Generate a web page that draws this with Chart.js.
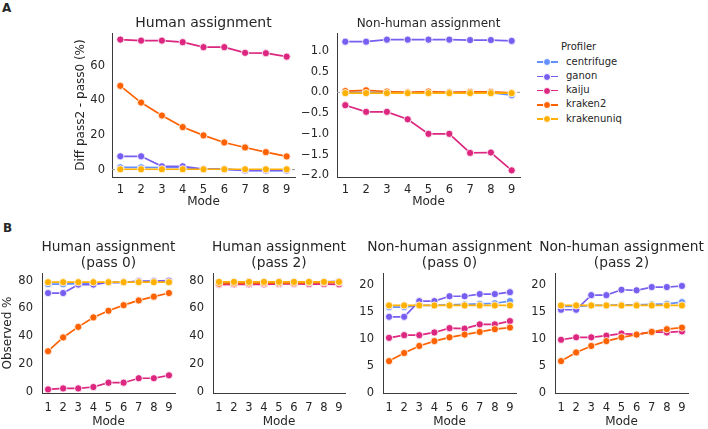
<!DOCTYPE html>
<html>
<head>
<meta charset="utf-8">
<script src="https://cdn.jsdelivr.net/npm/chart.js@4.4.0/dist/chart.umd.min.js"></script>
<style>
  body { margin: 0; width: 708px; height: 429px; background: #fff; position: relative; overflow: hidden;
         font-family: "DejaVu Sans", sans-serif; color: #262626; }
  canvas { position: absolute; }
  .panel-letter { position: absolute; font-weight: bold; font-size: 12px; line-height: 12px; }
  .leg { position: absolute; font-size: 10px; line-height: 12px; white-space: nowrap; }
  .leg-line { position: absolute; height: 1.6px; width: 21px; }
  .leg-dot { position: absolute; width: 6px; height: 6px; border-radius: 50%; border: 0.8px solid #fff; }
</style>
</head>
<body>
<div class="panel-letter" style="left:2px;top:2px">A</div>
<div class="panel-letter" style="left:3px;top:222px">B</div>
<canvas id="a-human" width="235" height="212" style="left:70px;top:0px"></canvas>
<canvas id="a-nonhuman" width="233" height="212" style="left:297px;top:0px"></canvas>
<canvas id="b-human-0" width="185" height="199" style="left:0px;top:230px"></canvas>
<canvas id="b-human-2" width="172" height="199" style="left:183px;top:230px"></canvas>
<canvas id="b-nonhuman-0" width="193" height="199" style="left:353px;top:230px"></canvas>
<canvas id="b-nonhuman-2" width="183" height="199" style="left:525px;top:230px"></canvas>
<div id="legend"></div>
<script>
// x values shared by every panel
var modes = [1, 2, 3, 4, 5, 6, 7, 8, 9];
var profilers = ["centrifuge", "ganon", "kaiju", "kraken2", "krakenuniq"];
var profilerColors = ["#648FFF", "#785EF0", "#DC267F", "#FE6100", "#FFB000"];

// A: diff pass2 - pass0 (%), human assignment
var diffHumanCentrifuge = [1.3, 1.3, 1.2, 1.2, 0.2, 0.2, -0.6, -0.6, -0.6];
var diffHumanGanon      = [7.7, 7.7, 1.9, 1.9, 0.3, 0.3, -0.5, -0.5, -0.5];
var diffHumanKaiju      = [75.3, 74.7, 74.7, 73.8, 70.9, 70.9, 67.6, 67.4, 65.4];
var diffHumanKraken2    = [48.5, 38.8, 31.3, 24.6, 19.8, 15.7, 12.8, 10.1, 7.6];
var diffHumanKrakenuniq = [0.2, 0.2, 0.2, 0.2, 0.2, 0.2, 0.2, 0.2, 0.2];

// A: diff pass2 - pass0 (%), non-human assignment
var diffNonhumanCentrifuge = [0.0, 0.0, 0.0, 0.0, 0.0, 0.0, 0.0, -0.01, -0.07];
var diffNonhumanGanon      = [1.22, 1.22, 1.27, 1.27, 1.27, 1.27, 1.26, 1.26, 1.24];
var diffNonhumanKaiju      = [-0.31, -0.47, -0.47, -0.65, -1.0, -1.0, -1.46, -1.45, -1.88];
var diffNonhumanKraken2    = [0.03, 0.05, 0.02, 0.0, 0.02, 0.0, 0.01, 0.01, -0.01];
var diffNonhumanKrakenuniq = [-0.02, -0.02, -0.02, -0.02, -0.02, -0.02, -0.02, -0.02, -0.02];

// B: observed %, human assignment, pass 0
var humanPass0Centrifuge = [77.5, 77.5, 77.8, 77.8, 78.6, 78.7, 79.3, 79.4, 79.6];
var humanPass0Ganon      = [71.1, 71.1, 77.2, 77.2, 78.7, 78.8, 79.6, 79.6, 80.0];
var humanPass0Kaiju      = [1.9, 2.6, 2.6, 3.6, 6.7, 6.7, 9.9, 9.9, 12.0];
var humanPass0Kraken2    = [29.3, 39.2, 46.8, 53.6, 58.4, 62.4, 65.8, 68.5, 71.1];
var humanPass0Krakenuniq = [78.9, 78.9, 78.9, 78.9, 78.9, 78.9, 78.9, 78.9, 78.9];

// B: observed %, human assignment, pass 2
var humanPass2Centrifuge = [78.8, 78.8, 79.0, 79.0, 78.8, 78.9, 78.7, 78.8, 79.0];
var humanPass2Ganon      = [78.8, 78.8, 79.1, 79.1, 79.0, 79.1, 79.1, 79.1, 79.5];
var humanPass2Kaiju      = [77.2, 77.3, 77.3, 77.4, 77.6, 77.6, 77.5, 77.5, 77.4];
var humanPass2Kraken2    = [77.8, 78.0, 78.1, 78.2, 78.2, 78.1, 78.6, 78.6, 78.7];
var humanPass2Krakenuniq = [79.1, 79.1, 79.1, 79.1, 79.1, 79.1, 79.1, 79.1, 79.1];

// B: observed %, non-human assignment, pass 0
var nonhumanPass0Centrifuge = [15.9, 15.9, 16.2, 16.2, 16.3, 16.4, 16.5, 16.6, 17.0];
var nonhumanPass0Ganon      = [14.1, 14.1, 17.0, 17.0, 17.9, 17.9, 18.3, 18.3, 18.65];
var nonhumanPass0Kaiju      = [10.2, 10.7, 10.7, 11.2, 12.0, 11.9, 12.7, 12.7, 13.3];
var nonhumanPass0Kraken2    = [5.9, 7.4, 8.7, 9.6, 10.3, 10.8, 11.3, 11.8, 12.1];
var nonhumanPass0Krakenuniq = [16.2, 16.2, 16.2, 16.2, 16.2, 16.2, 16.2, 16.2, 16.2];

// B: observed %, non-human assignment, pass 2
var nonhumanPass2Centrifuge = [16.0, 16.0, 16.2, 16.2, 16.3, 16.3, 16.4, 16.5, 16.8];
var nonhumanPass2Ganon      = [15.4, 15.4, 18.1, 18.1, 19.1, 19.0, 19.6, 19.6, 19.8];
var nonhumanPass2Kaiju      = [9.85, 10.3, 10.3, 10.6, 11.0, 10.85, 11.3, 11.2, 11.4];
var nonhumanPass2Kraken2    = [5.9, 7.5, 8.7, 9.6, 10.3, 10.8, 11.3, 11.8, 12.1];
var nonhumanPass2Krakenuniq = [16.2, 16.2, 16.2, 16.2, 16.2, 16.2, 16.2, 16.2, 16.2];

// tick labels
var diffHumanTicks = [0, 20, 40, 60];
var diffNonhumanTicks = [-2.0, -1.5, -1.0, -0.5, 0.0, 0.5, 1.0];
var humanTicks = [0, 20, 40, 60, 80];
var nonhumanTicks = [0, 5, 10, 15, 20];

Chart.defaults.font.family = "'DejaVu Sans', sans-serif";
Chart.defaults.color = "#262626";

function buildDatasets(seriesList) {
  return seriesList.map(function (values, i) {
    return {
      label: profilers[i],
      data: values.map(function (v, j) { return { x: modes[j], y: v }; }),
      borderColor: profilerColors[i],
      backgroundColor: profilerColors[i],
      pointBackgroundColor: profilerColors[i],
      pointBorderColor: "#fff",
      pointBorderWidth: 0.8,
      pointRadius: 3.6,
      borderWidth: 1.7,
      order: seriesList.length - i   // later profilers drawn on top, like seaborn
    };
  });
}

// titles centred over the plot area + the dashed zero line of panel A
function decorPlugin(p) {
  return {
    id: "decor",
    beforeDatasetsDraw: function (chart) {
      if (!p.zeroLine) return;
      var ctx = chart.ctx, area = chart.chartArea;
      var y = chart.scales.y.getPixelForValue(0);
      ctx.save();
      ctx.strokeStyle = "#9a9a9a";
      ctx.lineWidth = 1;
      ctx.setLineDash([3, 2]);
      ctx.beginPath();
      ctx.moveTo(area.left, y);
      ctx.lineTo(area.right, y);
      ctx.stroke();
      ctx.restore();
    },
    afterDraw: function (chart) {
      var ctx = chart.ctx, area = chart.chartArea;
      ctx.save();
      ctx.fillStyle = "#262626";
      ctx.font = p.titleSize + "px 'DejaVu Sans'";
      ctx.textAlign = "center";
      ctx.textBaseline = "middle";
      p.title.forEach(function (line, i) {
        ctx.fillText(line, (area.left + area.right) / 2, p.titleY + i * p.titleGap);
      });
      ctx.restore();
    }
  };
}

function makePanel(id, p) {
  var fmt = function (v) {
    var s = p.decimals ? v.toFixed(p.decimals) : String(Math.round(v));
    return s.replace("-", "\u2212");
  };
  return new Chart(document.getElementById(id), {
    type: "line",
    data: { datasets: buildDatasets(p.series) },
    plugins: [decorPlugin(p)],
    options: {
      responsive: false,
      animation: false,
      layout: { padding: { top: p.padTop, right: p.padRight || 10, left: 0, bottom: 0 } },
      plugins: { legend: { display: false }, tooltip: { enabled: false } },
      scales: {
        x: {
          type: "linear",
          min: 0.6, max: 9.4,
          grid: { display: false, drawTicks: false },
          border: { display: true, color: "#3a3a3a", width: 1 },
          ticks: { font: { size: 11.5 }, padding: p.xTickPad, color: "#262626" },
          afterBuildTicks: function (s) { s.ticks = modes.map(function (m) { return { value: m }; }); },
          afterFit: function (s) { s.height = p.xHeight; },
          title: { display: true, text: "Mode", font: { size: 12 }, padding: { top: 0, bottom: p.xTitlePad } }
        },
        y: {
          min: p.ymin, max: p.ymax,
          grid: { display: false, drawTicks: false },
          border: { display: true, color: "#3a3a3a", width: 1 },
          ticks: { font: { size: 11.5 }, padding: p.yTickPad, color: "#262626", callback: fmt },
          afterBuildTicks: function (s) { s.ticks = p.ticks.map(function (t) { return { value: t }; }); },
          afterFit: function (s) { s.width = p.yWidth; },
          title: { display: !!p.yTitle, text: p.yTitle || "", font: { size: 12 }, padding: { top: p.yTitlePad || 0, bottom: 0 } }
        }
      }
    }
  });
}

makePanel("a-human", {
  series: [diffHumanCentrifuge, diffHumanGanon, diffHumanKaiju, diffHumanKraken2, diffHumanKrakenuniq],
  title: ["Human assignment"], titleSize: 14, titleY: 23, titleGap: 0,
  padTop: 33, xHeight: 35, xTickPad: 6, xTitlePad: 3, yWidth: 42, yTickPad: 7,
  yTitle: "Diff pass2 - pass0 (%)", yTitlePad: 4,
  ymin: -4.3, ymax: 79.1, ticks: diffHumanTicks, decimals: 0, zeroLine: true
});

makePanel("a-nonhuman", {
  series: [diffNonhumanCentrifuge, diffNonhumanGanon, diffNonhumanKaiju, diffNonhumanKraken2, diffNonhumanKrakenuniq],
  title: ["Non-human assignment"], titleSize: 12, titleY: 23.5, titleGap: 0,
  padTop: 33, xHeight: 35, xTickPad: 6, xTitlePad: 3, yWidth: 40, yTickPad: 8,
  ymin: -2.04, ymax: 1.43, ticks: diffNonhumanTicks, decimals: 1, zeroLine: true
});

makePanel("b-human-0", {
  series: [humanPass0Centrifuge, humanPass0Ganon, humanPass0Kaiju, humanPass0Kraken2, humanPass0Krakenuniq],
  title: ["Human assignment", "(pass 0)"], titleSize: 13.75, titleY: 17.7, titleGap: 15.6,
  padTop: 43, xHeight: 36, xTickPad: 8, xTitlePad: 0, yWidth: 42, yTickPad: 9,
  yTitle: "Observed %", yTitlePad: 1,
  ymin: -0.7, ymax: 85.5, ticks: humanTicks, decimals: 0
});

makePanel("b-human-2", {
  series: [humanPass2Centrifuge, humanPass2Ganon, humanPass2Kaiju, humanPass2Kraken2, humanPass2Krakenuniq],
  title: ["Human assignment", "(pass 2)"], titleSize: 13.75, titleY: 17.7, titleGap: 15.6,
  padTop: 43, xHeight: 36, xTickPad: 8, xTitlePad: 0, yWidth: 30, yTickPad: 9,
  ymin: -0.7, ymax: 85.5, ticks: humanTicks, decimals: 0
});

makePanel("b-nonhuman-0", {
  series: [nonhumanPass0Centrifuge, nonhumanPass0Ganon, nonhumanPass0Kaiju, nonhumanPass0Kraken2, nonhumanPass0Krakenuniq],
  title: ["Non-human assignment", "(pass 0)"], titleSize: 13.75, titleY: 17.7, titleGap: 15.6,
  padTop: 43, padRight: 30, xHeight: 36, xTickPad: 8, xTitlePad: 0, yWidth: 30, yTickPad: 9,
  ymin: 0, ymax: 22.2, ticks: nonhumanTicks, decimals: 0
});

makePanel("b-nonhuman-2", {
  series: [nonhumanPass2Centrifuge, nonhumanPass2Ganon, nonhumanPass2Kaiju, nonhumanPass2Kraken2, nonhumanPass2Krakenuniq],
  title: ["Non-human assignment", "(pass 2)"], titleSize: 13.75, titleY: 17.7, titleGap: 15.6,
  padTop: 43, padRight: 20, xHeight: 36, xTickPad: 8, xTitlePad: 0, yWidth: 30, yTickPad: 9,
  ymin: 0, ymax: 22.2, ticks: nonhumanTicks, decimals: 0
});

// legend for panel A
var legend = document.getElementById("legend");
var head = document.createElement("div");
head.className = "leg";
head.style.left = "561px"; head.style.top = "41px";
head.textContent = "Profiler";
legend.appendChild(head);
profilers.forEach(function (name, i) {
  var y = 62 + i * 14.3;
  var line = document.createElement("div");
  line.className = "leg-line";
  line.style.left = "537px"; line.style.top = (y - 0.8) + "px";
  line.style.background = profilerColors[i];
  var dot = document.createElement("div");
  dot.className = "leg-dot";
  dot.style.left = (547 - 3.8) + "px"; dot.style.top = (y - 3.8) + "px";
  dot.style.background = profilerColors[i];
  var txt = document.createElement("div");
  txt.className = "leg";
  txt.style.left = "566px"; txt.style.top = (y - 6.5) + "px";
  txt.textContent = name;
  legend.appendChild(line);
  legend.appendChild(dot);
  legend.appendChild(txt);
});
</script>
</body>
</html>
